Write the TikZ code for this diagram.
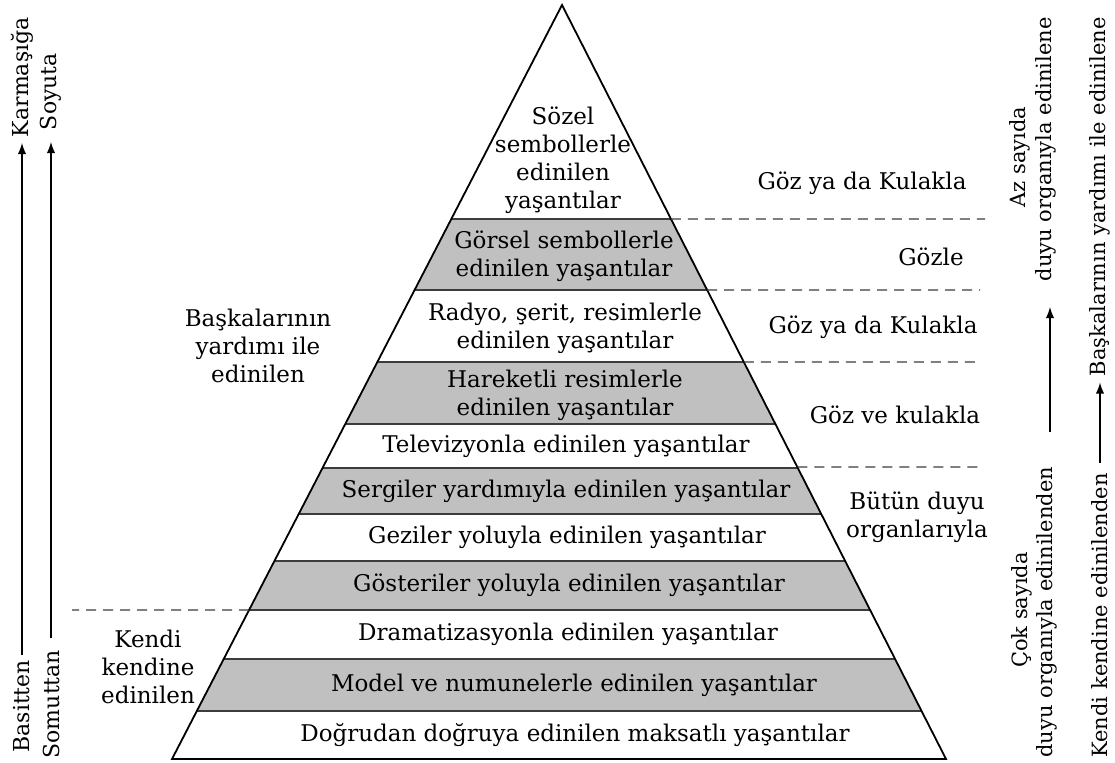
\documentclass[tikz,border=0pt]{standalone}
\usepackage{fontspec}
\setmainfont{DejaVu Serif}
\usetikzlibrary{calc}
\definecolor{bandgray}{RGB}{192,192,192}
\definecolor{linegray}{RGB}{60,60,60}
\tikzset{
  lbl/.style={font=\fontsize{11.5}{14}\selectfont, align=center, inner sep=0pt},
  sidetext/.style={font=\fontsize{11}{14}\selectfont, rotate=90, inner sep=0pt},
  rsidetext/.style={font=\fontsize{10.5}{14}\selectfont, rotate=90, inner sep=0pt},
  guide/.style={linegray, line width=0.6pt, dash pattern=on 5pt off 3.5pt},
  arr/.style={line width=0.9pt, -latex},
}
\begin{document}
\begin{tikzpicture}[x=0.5pt,y=-0.5pt]
\useasboundingbox (0,0) rectangle (1115,762);
%corners of the pyramid
\coordinate (apex) at (562,5);
\coordinate (bl) at (172,759);
\coordinate (br) at (946,759);
%grey bands, clipped to the pyramid
\begin{scope}
\clip (apex) -- (bl) -- (br) -- cycle;
\foreach \ya/\yb in {219/290, 362/424, 468/514, 561/610, 659/711}
  \fill[bandgray] (0,\ya) rectangle (1115,\yb);
\foreach \y in {219,290,362,424,468,514,561,610,659,711}
  \draw[linegray, line width=0.9pt] (0,\y) -- (1115,\y);
\end{scope}
\draw[line width=0.9pt] (apex) -- (bl) -- (br) -- cycle;
%points on the sides where the dashed lines start
\coordinate (e1) at ($(apex)!0.2838!(br)$);
\coordinate (e2) at ($(apex)!0.3780!(br)$);
\coordinate (e3) at ($(apex)!0.4735!(br)$);
\coordinate (e4) at ($(apex)!0.6127!(br)$);
\coordinate (e5) at ($(apex)!0.8024!(bl)$);
\coordinate (d1) at (985,219);
\coordinate (d2) at (980,290);
\coordinate (d3) at (975,362);
\coordinate (d4) at (980,467);
\coordinate (d5) at (72,610);
\draw[guide] (e1) -- (d1);
\draw[guide] (e2) -- (d2);
\draw[guide] (e3) -- (d3);
\draw[guide] (e4) -- (d4);
\draw[guide] (e5) -- (d5);
%the steps of the pyramid
\node[lbl] (sozel) at (563,160) {Sözel\\sembollerle\\edinilen\\yaşantılar};
\node[lbl] (gorsel) at (564,256) {Görsel sembollerle\\edinilen yaşantılar};
\node[lbl] (radyo) at (565,328) {Radyo, şerit, resimlerle\\edinilen yaşantılar};
\node[lbl] (hareketli) at (565,395) {Hareketli resimlerle\\edinilen yaşantılar};
\node[lbl] (televizyon) at (566,446) {Televizyonla edinilen yaşantılar};
\node[lbl] (sergiler) at (566,491) {Sergiler yardımıyla edinilen yaşantılar};
\node[lbl] (geziler) at (567,537) {Geziler yoluyla edinilen yaşantılar};
\node[lbl] (gosteriler) at (569,585) {Gösteriler yoluyla edinilen yaşantılar};
\node[lbl] (drama) at (568,634) {Dramatizasyonla edinilen yaşantılar};
\node[lbl] (model) at (574,685) {Model ve numunelerle edinilen yaşantılar};
\node[lbl] (dogrudan) at (575,735) {Doğrudan doğruya edinilen maksatlı yaşantılar};
%senses on the right
\node[lbl] (kulak1) at (862,183) {Göz ya da Kulakla};
\node[lbl] (gozle) at (931,257) {Gözle};
\node[lbl] (kulak2) at (873,327) {Göz ya da Kulakla};
\node[lbl] (gozkulak) at (895,415) {Göz ve kulakla};
\node[lbl] (butun) at (917,517) {Bütün duyu\\organlarıyla};
%left groups
\node[lbl] (baskalari) at (258,346) {Başkalarının\\yardımı ile\\edinilen};
\node[lbl] (kendi) at (148,667) {Kendi\\kendine\\edinilen};
%left arrows
\node[sidetext, anchor=west, outer sep=3pt] (karmasiga) at (22,143) {Karmaşığa};
\node[sidetext, anchor=east, outer sep=2.5pt] (basitten) at (22,655) {Basitten};
\node[sidetext, anchor=west, outer sep=6pt] (soyuta) at (51,142) {Soyuta};
\node[sidetext, anchor=east, outer sep=6pt] (somuttan) at (51,638) {Somuttan};
\draw[arr] (basitten) -- (karmasiga);
\draw[arr] (somuttan) -- (soyuta);
%right arrows
\node[rsidetext] (azsayida) at (1020,157) {Az sayıda};
\node[rsidetext, anchor=east] (azduyu) at (1046,17) {duyu organıyla edinilene};
\node[rsidetext] (coksayida) at (1022,610) {Çok sayıda};
\node[rsidetext, anchor=west] (cokduyu) at (1047,758) {duyu organıyla edinilenden};
\node[rsidetext, anchor=east] (baskalarina) at (1100,17) {Başkalarının yardımı ile edinilene};
\node[rsidetext, anchor=west] (kendine) at (1100,758) {Kendi kendine edinilenden};
\coordinate (r1a) at (1050,432);
\coordinate (r1b) at (1050,307);
\draw[arr] (r1a) -- (r1b);
\draw[arr] (kendine.east) ++(0,-10) coordinate (r2a) -- ($(baskalarina.west)+(0,6)$) coordinate (r2b);
\end{tikzpicture}
\end{document}
